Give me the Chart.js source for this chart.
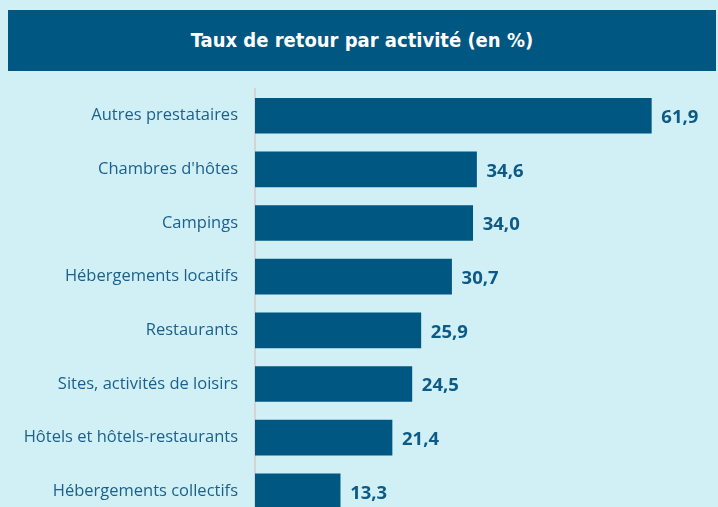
<!DOCTYPE html>
<html>
<head>
<meta charset="utf-8">
<script src="https://cdn.jsdelivr.net/npm/chart.js@4"></script>
<style>
  html, body { margin: 0; padding: 0; width: 718px; height: 507px; overflow: hidden; background: #d0f0f6; }
  #banner {
    position: absolute; left: 8px; top: 10px; width: 708px; height: 61px;
    background: #005782; color: #fff; text-align: center; line-height: 61px;
    font-family: "DejaVu Sans Condensed", "DejaVu Sans", sans-serif; font-weight: bold; font-size: 20px;
  }
  #chart { position: absolute; left: 0; top: 62px; }
</style>
</head>
<body>
<div id="banner">Taux de retour par activité (en %)</div>
<canvas id="chart" width="718" height="483"></canvas>
<script>
// Data
var categories = [
  "Autres prestataires",
  "Chambres d'hôtes",
  "Campings",
  "Hébergements locatifs",
  "Restaurants",
  "Sites, activités de loisirs",
  "Hôtels et hôtels-restaurants",
  "Hébergements collectifs"
];
var values = [61.9, 34.6, 34.0, 30.7, 25.9, 24.5, 21.4, 13.3];

var BAR_COLOR = "#005782";
var TEXT_COLOR = "#1b5f8c";

// Value labels to the right of each bar
var valueLabels = {
  id: "valueLabels",
  afterDatasetsDraw: function (chart) {
    var ctx = chart.ctx;
    var meta = chart.getDatasetMeta(0);
    ctx.save();
    ctx.font = "bold 18.5px 'Open Sans', sans-serif";
    ctx.fillStyle = "#0d5a86";
    ctx.textAlign = "left";
    ctx.textBaseline = "middle";
    meta.data.forEach(function (bar, i) {
      ctx.fillText(values[i].toFixed(1).replace(".", ","), bar.x + 10, bar.y + 2);
    });
    ctx.restore();
  }
};

new Chart(document.getElementById("chart").getContext("2d"), {
  type: "bar",
  data: {
    labels: categories,
    datasets: [{
      data: values,
      backgroundColor: BAR_COLOR,
      barThickness: 35
    }]
  },
  options: {
    indexAxis: "y",
    responsive: false,
    animation: false,
    layout: { padding: { top: 0, right: 2, bottom: 0, left: 0 } },
    plugins: {
      legend: { display: false },
      tooltip: { enabled: false }
    },
    scales: {
      x: {
        display: false,
        min: 0,
        max: 72
      },
      y: {
        afterFit: function (scale) { scale.width = 255; },
        grid: { display: false, drawTicks: false },
        border: { display: true, color: "#d4d4d4", width: 2 },
        ticks: {
          padding: 17,
          color: TEXT_COLOR,
          font: { family: "'Open Sans', sans-serif", size: 16.5 }
        }
      }
    }
  },
  plugins: [valueLabels]
});
</script>
</body>
</html>
